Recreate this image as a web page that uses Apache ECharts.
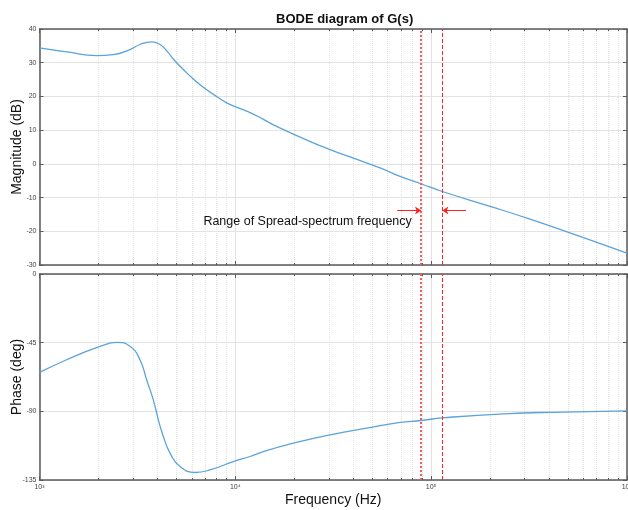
<!DOCTYPE html>
<html>
<head>
<meta charset="utf-8">
<script src="https://cdn.jsdelivr.net/npm/echarts@6/dist/echarts.min.js"></script>
<style>
html,body{margin:0;padding:0;background:#fff;}
#main{width:628px;height:510px;}
</style>
</head>
<body>
<div id="main"></div>
<script>
// magnitude curve (Hz, dB)
var magFreq = [1000, 1377, 1958, 2381, 2897, 3259, 3740, 4124, 4467, 4921, 5423, 5984, 6731, 7727, 9042, 10050, 11890, 13900, 16260, 20180, 30460, 40090, 54820, 69360, 88770, 114000, 200000, 320000, 575000, 1000000];
var magDb   = [34.4, 33.2, 32.1, 32.4, 33.9, 35.4, 36.2, 35.4, 33.5, 30.5, 28.0, 25.6, 23.1, 20.6, 18.1, 16.9, 15.2, 13.2, 11.1, 8.6, 4.2, 1.7, -1.2, -3.7, -5.9, -8.2, -12.6, -16.4, -21.5, -26.5];

// phase curve (Hz, deg)
var phFreq = [1000, 1377, 2036, 2477, 2897, 3259, 3524, 3811, 4045, 4290, 4639, 5221, 6223, 7431, 9775, 11890, 13900, 19770, 30460, 46900, 69360, 88770, 114000, 233700, 473000, 1000000];
var phDeg  = [-64.5, -56.2, -47.5, -44.8, -47.3, -56.2, -69.3, -82.5, -95.6, -106.5, -117.4, -126.2, -130.1, -128.4, -122.9, -119.6, -116.4, -110.9, -105.4, -101.0, -97.3, -96.0, -94.3, -91.6, -90.5, -89.7];

// spread-spectrum range limits (Hz)
var rangeFreq = [88770, 114000];
var decadeLabels = {1000: '10³', 10000: '10⁴', 100000: '10⁵', 1000000: '10⁶'};

function pairs(xs, ys) {
	var out = [];
	for (var i = 0; i < xs.length; i++) out.push([xs[i], ys[i]]);
	return out;
}

var frame = '#5a5a5a';
var gridCol = '#e3e3e3';
var tickFont = {fontSize: 7, color: '#444', fontFamily: 'Liberation Sans'};
var nameFont = {fontSize: 14, color: '#111', fontFamily: 'Liberation Sans'};

function freqAxis(grid, pos, labels) {
	return {
		type: 'log', logBase: 10, min: 1000, max: 1000000, gridIndex: grid, position: pos,
		axisLine: {show: true, onZero: false, lineStyle: {color: frame, width: 1.5}},
		axisTick: {show: true, inside: true, length: 4, lineStyle: {color: frame}},
		minorTick: {show: true, splitNumber: 9, length: 2, lineStyle: {color: frame}},
		axisLabel: labels ? Object.assign({show: true, margin: 4, formatter: function(v){ return decadeLabels[Math.round(v)] || ''; }}, tickFont) : {show: false},
		splitLine: {show: labels, lineStyle: {color: gridCol}},
		minorSplitLine: {show: labels, lineStyle: {color: '#e2e2e2', type: 'dotted'}}
	};
}
function valAxis(grid, pos, min, max, step, labels) {
	return {
		type: 'value', gridIndex: grid, position: pos, min: min, max: max, interval: step,
		axisLine: {show: true, onZero: false, lineStyle: {color: frame, width: 1.5}},
		axisTick: {show: true, inside: true, length: 4, lineStyle: {color: frame}},
		axisLabel: labels ? Object.assign({show: true, margin: 3}, tickFont) : {show: false},
		splitLine: {show: labels, lineStyle: {color: gridCol}}
	};
}

var redLines = function(first) {
	return {
		silent: true, symbol: 'none', label: {show: false},
		data: [
			{xAxis: rangeFreq[0], lineStyle: {color: '#ff5a5a', type: 'dotted', width: 2}},
			{xAxis: rangeFreq[1], lineStyle: {color: '#ff2020', type: 'dashed', width: 1}}
		].concat(first ? [
			[{coord: [67100, -13.8], symbol: 'none', lineStyle: {color: '#ff2020', type: 'solid', width: 1}},
			 {coord: [rangeFreq[0], -13.8], symbol: 'arrow'}],
			[{coord: [150700, -13.8], symbol: 'none', lineStyle: {color: '#ff2020', type: 'solid', width: 1}},
			 {coord: [rangeFreq[1], -13.8], symbol: 'arrow'}]
		] : []),
		symbolSize: [6, 6]
	};
};

var myChart = echarts.init(document.getElementById('main'));
var option = {
	animation: false,
	title: {
		text: 'BODE diagram of G(s)', left: 271, top: 8,
		textStyle: {fontSize: 13, fontWeight: 'bold', color: '#111', fontFamily: 'Liberation Sans'}
	},
	grid: [
		{left: 39.5, right: 1, top: 29, height: 236, containLabel: false, outerBoundsMode: 'none'},
		{left: 39.5, right: 1, top: 274, height: 206, containLabel: false, outerBoundsMode: 'none'}
	],
	xAxis: [
		Object.assign(freqAxis(0, 'bottom', true), {axisLabel: {show: false}}),
		Object.assign(freqAxis(1, 'bottom', true), {
			name: 'Frequency (Hz)', nameLocation: 'middle', nameGap: 13, nameMoveOverlap: false,
			nameTextStyle: nameFont
		}),
		freqAxis(0, 'top', false),
		freqAxis(1, 'top', false)
	],
	yAxis: [
		Object.assign(valAxis(0, 'left', -30, 40, 10, true), {
			name: 'Magnitude (dB)', nameLocation: 'middle', nameGap: 15, nameMoveOverlap: false,
			nameTextStyle: nameFont
		}),
		Object.assign(valAxis(1, 'left', -135, 0, 45, true), {
			name: 'Phase (deg)', nameLocation: 'middle', nameGap: 15, nameMoveOverlap: false,
			nameTextStyle: nameFont
		}),
		valAxis(0, 'right', -30, 40, 10, false),
		valAxis(1, 'right', -135, 0, 45, false)
	],
	series: [
		{
			type: 'line', xAxisIndex: 0, yAxisIndex: 0, data: pairs(magFreq, magDb),
			smooth: 0.5, showSymbol: false, lineStyle: {color: '#5ba3db', width: 1.3},
			markLine: redLines(true),
			markPoint: {
				silent: true,
				data: [{coord: [23390, -17.25], symbol: 'rect', symbolSize: 1,
					itemStyle: {color: 'rgba(0,0,0,0)'},
					label: {show: true, position: 'inside', formatter: 'Range of Spread-spectrum frequency',
						fontSize: 12.5, color: '#111', fontFamily: 'Liberation Sans'}}]
			}
		},
		{
			type: 'line', xAxisIndex: 1, yAxisIndex: 1, data: pairs(phFreq, phDeg),
			smooth: 0.5, showSymbol: false, lineStyle: {color: '#5ba3db', width: 1.3},
			markLine: redLines(false)
		}
	]
};
myChart.setOption(option);
</script>
</body>
</html>
